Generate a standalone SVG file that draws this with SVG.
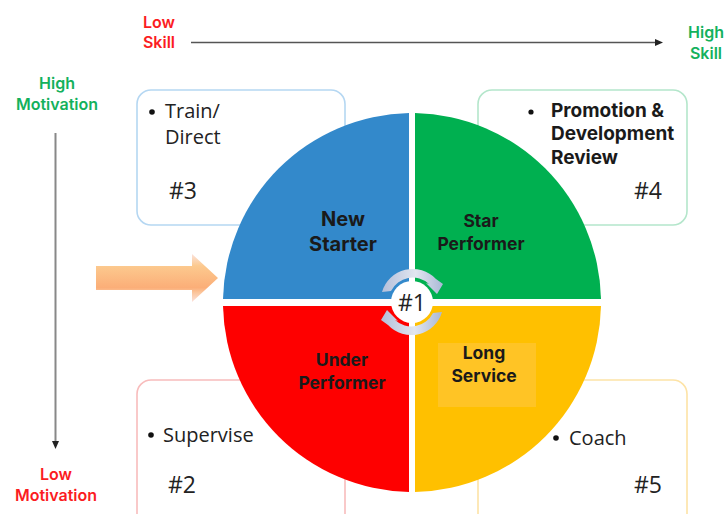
<svg xmlns="http://www.w3.org/2000/svg" width="727" height="514" viewBox="0 0 727 514">
<style>
.box{fill:#fff;stroke-width:1.6}
.t{font-family:"Open Sans","Liberation Sans",sans-serif;fill:#222}
.b{font-size:20px}
.n{font-size:23px}
.h{font-family:"Inter","Liberation Sans",sans-serif;font-weight:700;fill:#1a1a1a;font-size:19px;text-anchor:middle}
.m{font-size:17.500px}
.ax{font-family:"Inter","Liberation Sans",sans-serif;font-weight:600;font-size:16px;text-anchor:middle}
.g{fill:#13b15c}.r{fill:#fb1c22}
.ln{stroke:#555;stroke-width:1.3;fill:none}
</style>
<defs>
<linearGradient id="ag" x1="0" y1="0" x2="0" y2="1"><stop offset="0" stop-color="#fbe2dc"/><stop offset=".25" stop-color="#fcc98e"/><stop offset=".7" stop-color="#fbae78"/><stop offset=".8" stop-color="#fbc49a"/><stop offset="1" stop-color="#fbe2dc"/></linearGradient>
<linearGradient id="rg" x1="0" y1="0" x2="1" y2="0"><stop offset="0" stop-color="#b3bfda"/><stop offset=".55" stop-color="#e2e6f0"/><stop offset="1" stop-color="#a9b8d6"/></linearGradient>
</defs>
<g id="connectors">
<line class="ln" x1="191" y1="42.500" x2="657" y2="42.500"/>
<path d="M655 39l8 3.500-8 3.500z" fill="#222"/>
<line x1="55.500" y1="133" x2="55.500" y2="442" stroke="#888" stroke-width="2"/>
<path d="M52 441l3.500 8 3.500-8z" fill="#222"/>
</g>
<g id="axis-labels">
<text class="ax r" x="159" y="28">Low</text>
<text class="ax r" x="159" y="48">Skill</text>
<text class="ax g" x="706" y="38">High</text>
<text class="ax g" x="706" y="59">Skill</text>
<text class="ax g" x="57" y="89">High</text>
<text class="ax g" x="57" y="110">Motivation</text>
<text class="ax r" x="56" y="480">Low</text>
<text class="ax r" x="56" y="501">Motivation</text>
</g>
<g id="box3"><rect class="box" x="137" y="90" width="208" height="135" rx="14" stroke="#b5d7f2"/>
<circle cx="152" cy="112" r="2.800" fill="#111"/>
<text class="t b" x="165" y="118">Train/</text><text class="t b" x="165" y="144">Direct</text>
<text class="t n" x="169" y="199">#3</text></g>
<g id="box4"><rect class="box" x="478" y="90" width="209" height="135" rx="14" stroke="#b4e6cb"/>
<circle cx="531" cy="112" r="2.600" fill="#111"/>
<text class="h" style="text-anchor:start" x="551" y="117">Promotion &amp;</text><text class="h" style="text-anchor:start" x="551" y="140">Development</text><text class="h" style="text-anchor:start" x="551" y="164">Review</text>
<text class="t n" x="634" y="199">#4</text></g>
<g id="box2"><rect class="box" x="137" y="380" width="208" height="150" rx="14" stroke="#f8bcbc"/>
<circle cx="151" cy="435" r="2.800" fill="#111"/>
<text class="t b" x="163" y="442">Supervise</text>
<text class="t n" x="168" y="493">#2</text></g>
<g id="box5"><rect class="box" x="478" y="380" width="209" height="150" rx="14" stroke="#fde3a6"/>
<circle cx="556" cy="438" r="2.800" fill="#111"/>
<text class="t b" x="569" y="445">Coach</text>
<text class="t n" x="634" y="493">#5</text></g>
<g id="new-starter"><path d="M409 113V299H223A190 190 0 0 1 409 113Z" fill="#3389cb"/>
<text class="h" style="font-size:20px" x="343" y="226">New</text><text class="h" style="font-size:20px" x="343" y="251">Starter</text></g>
<g id="star-performer"><path d="M415 113V299H601A190 190 0 0 0 415 113Z" fill="#00b050"/>
<text class="h m" x="481" y="227">Star</text><text class="h m" x="481" y="250">Performer</text></g>
<g id="under-performer"><path d="M409 492V306H223A190 190 0 0 0 409 492Z" fill="#fe0000"/>
<text class="h m" x="342" y="366">Under</text><text class="h m" x="342" y="389">Performer</text></g>
<g id="long-service"><path d="M415 492V306H601A190 190 0 0 1 415 492Z" fill="#ffc000"/>
<rect x="438" y="343" width="98" height="64" fill="#ffc425"/>
<text class="h m" x="484" y="359">Long</text><text class="h m" x="484" y="382">Service</text></g>
<g id="centre">
<circle cx="412" cy="302" r="21" fill="#fff"/>
<path id="ring-top" d="M382 292A32 32 0 0 1 436 279L443 284 437 294 426 283 429 284A24 24 0 0 0 391 291Z" fill="url(#rg)"/>
<path id="ring-bottom" d="M442 312A32 32 0 0 1 388 325L381 320 387 310 398 321 395 320A24 24 0 0 0 433 313Z" fill="url(#rg)"/>
<text class="t" style="font-size:23px" x="398" y="311">#1</text></g>
<g id="entry-arrow"><path d="M96 266H192V254L218 278 192 302V290H96Z" fill="url(#ag)"/></g>
</svg>
